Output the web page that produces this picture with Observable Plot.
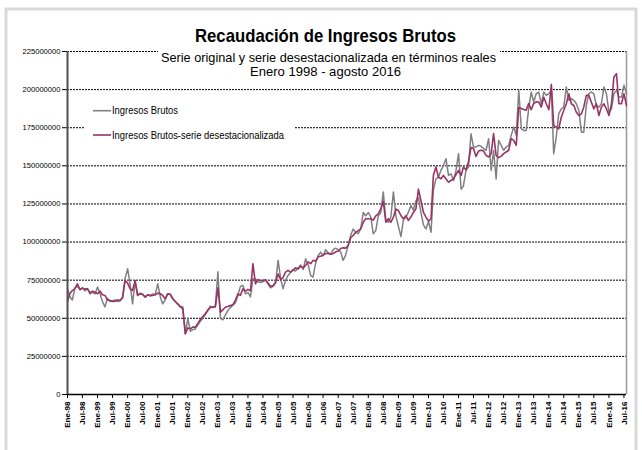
<!DOCTYPE html>
<html><head><meta charset="utf-8">
<script src="https://cdn.jsdelivr.net/npm/d3@7"></script>
<script src="https://cdn.jsdelivr.net/npm/@observablehq/plot@0.6"></script>
<style>
body{margin:0;background:#fff;}
svg{display:block}
</style>
</head><body><div id="chart"></div>
<script>
// ---- texts ----
const titleText = "Recaudación de Ingresos Brutos";
const subtitleLines = ["Serie original y serie desestacionalizada en términos reales", "Enero 1998 - agosto 2016"];
const seriesNames = ["Ingresos Brutos", "Ingresos Brutos-serie desestacionalizada"];
const monthAbbr = ["Ene","Feb","Mar","Abr","May","Jun","Jul","Ago","Sep","Oct","Nov","Dic"];
const yTicks = [0, 25000000, 50000000, 75000000, 100000000, 125000000, 150000000, 175000000, 200000000, 225000000];

// ---- monthly values, millions, Jan 1998 .. Aug 2016 ----
const original = [
69.0, 64.0, 62.0, 70.0, 71.0, 69.0, 70.0, 68.0, 69.5, 66.0, 67.0, 66.0,
70.5, 66.0, 61.0, 57.5, 63.0, 61.0, 61.5, 62.0, 61.0, 61.5, 64.0, 76.0,
82.5, 72.0, 59.5, 74.0, 65.0, 66.5, 66.0, 64.0, 65.5, 64.5, 66.0, 65.5,
72.6, 64.0, 59.5, 62.0, 66.0, 66.0, 63.0, 61.0, 59.0, 57.5, 57.5, 40.0,
50.0, 41.5, 42.5, 43.0, 45.5, 48.0, 50.0, 52.5, 55.0, 58.0, 57.0, 58.0,
80.5, 50.0, 49.0, 52.0, 55.0, 57.0, 58.5, 60.0, 65.0, 70.9, 71.5, 66.0,
67.0, 64.0, 76.0, 75.7, 74.0, 73.5, 74.0, 75.0, 72.5, 70.0, 71.0, 73.0,
88.0, 76.0, 69.3, 75.0, 78.0, 80.0, 82.0, 81.0, 83.0, 85.0, 82.0, 89.0,
85.0, 78.0, 77.0, 86.0, 91.0, 93.4, 91.0, 95.0, 93.0, 92.0, 95.0, 96.0,
95.0, 93.4, 88.0, 91.4, 97.7, 104.3, 108.6, 106.4, 105.5, 108.6, 119.4, 117.2,
119.4, 116.4, 105.4, 107.5, 117.2, 119.4, 132.9, 114.5, 113.0, 116.4, 132.9, 117.2,
110.2, 103.6, 114.2, 116.4, 119.4, 124.0, 121.0, 127.0, 129.0, 119.4, 111.3, 108.6,
113.5, 106.4, 133.9, 141.5, 142.6, 147.0, 150.0, 154.6, 143.7, 144.8, 140.4, 147.0,
158.0, 134.6, 136.8, 147.0, 149.2, 171.0, 162.4, 162.4, 163.4, 162.8, 161.3, 160.2,
167.8, 147.0, 160.0, 141.4, 166.7, 163.4, 160.2, 162.4, 163.4, 170.0, 175.4, 170.0,
199.5, 174.3, 173.2, 173.2, 187.4, 198.4, 191.9, 197.3, 198.4, 190.7, 198.4, 196.2,
197.3, 199.5, 158.0, 168.9, 184.1, 187.4, 188.5, 201.7, 193.0, 194.1, 193.0, 190.7,
186.3, 172.0, 172.0, 189.6, 197.3, 198.4, 197.3, 189.6, 188.5, 190.7, 201.7, 197.3,
185.2, 187.4, 197.3, 199.5, 195.1, 195.1, 202.8, 197.3
];
const desest = [
61.2, 66.5, 68.2, 69.5, 72.6, 68.7, 69.8, 69.1, 69.3, 66.7, 67.8, 67.1,
66.1, 67.8, 65.4, 65.0, 62.1, 61.7, 61.0, 61.2, 62.1, 61.7, 63.4, 74.8,
73.1, 69.3, 68.2, 74.8, 65.0, 66.1, 65.6, 63.9, 65.4, 65.0, 65.0, 65.4,
66.5, 66.1, 65.0, 62.8, 66.1, 65.6, 62.8, 61.0, 59.5, 57.7, 56.2, 39.8,
43.7, 43.1, 44.2, 44.2, 46.5, 49.0, 51.0, 53.0, 55.5, 57.0, 57.5, 57.5,
70.0, 54.0, 55.5, 57.2, 57.7, 58.3, 58.8, 61.7, 66.0, 65.0, 69.3, 67.8,
69.0, 68.0, 85.8, 72.6, 75.3, 74.8, 74.8, 75.3, 73.1, 70.9, 71.5, 73.7,
79.1, 75.3, 76.6, 80.3, 81.4, 80.3, 81.4, 83.1, 82.4, 84.1, 83.1, 84.7,
86.9, 85.8, 88.0, 87.5, 90.3, 90.7, 91.4, 92.5, 92.5, 92.0, 92.5, 93.6,
94.2, 95.8, 96.2, 96.0, 97.7, 102.8, 104.3, 106.4, 107.5, 108.6, 113.0, 115.3,
115.3, 115.3, 114.4, 117.2, 118.4, 121.7, 126.7, 113.0, 115.3, 113.0, 116.4, 121.7,
120.6, 117.3, 115.3, 117.3, 114.2, 116.4, 119.4, 121.7, 134.7, 127.1, 119.4, 116.4,
113.7, 115.3, 143.7, 149.2, 142.6, 141.5, 143.7, 141.5, 139.3, 140.4, 141.5, 144.3,
147.0, 143.7, 149.2, 147.4, 152.5, 162.0, 161.3, 156.2, 159.7, 160.2, 159.7, 156.9,
155.8, 158.0, 171.2, 156.9, 155.4, 156.2, 158.0, 159.1, 160.2, 167.8, 166.7, 163.4,
188.2, 187.6, 186.9, 186.5, 190.9, 186.9, 190.9, 192.0, 191.8, 188.5, 195.0, 190.7,
186.8, 203.4, 176.5, 175.4, 174.3, 181.9, 186.3, 190.7, 197.3, 190.7, 189.6, 185.2,
183.0, 184.1, 188.5, 196.2, 196.2, 191.8, 187.4, 190.7, 183.0, 188.5, 190.7, 187.4,
183.0, 190.7, 208.2, 210.4, 190.7, 190.7, 197.3, 189.6
];

const colors = {original: "#808080", desest: "#993366"};
const font = "'Liberation Sans', Arial, sans-serif";

const dates = original.map((_, i) => new Date(Date.UTC(1998, i, 1)));
const data = dates.map((d, i) => ({date: d, original: original[i] * 1e6, desest: desest[i] * 1e6}));
const xTicks = dates.filter(d => d.getUTCMonth() % 6 === 0);
const fmtX = d => monthAbbr[d.getUTCMonth()] + "-" + String(d.getUTCFullYear()).slice(2);

const W = 642, H = 450;
const chart = Plot.plot({
  width: W, height: H,
  marginLeft: 67, marginRight: 16, marginTop: 51, marginBottom: 56,
  style: {fontFamily: font, background: "white", color: "black"},
  x: {type: "utc", domain: [dates[0], dates[dates.length - 1]]},
  y: {domain: [0, 225000000]},
  marks: [
    Plot.gridY(yTicks.filter(d => d > 0), {stroke: "black", strokeOpacity: 1, strokeDasharray: "2,1", strokeWidth: 1}),
    Plot.ruleX([dates[dates.length - 1]], {stroke: "#9a9a9a", strokeWidth: 1.5}),
    Plot.axisY({ticks: yTicks, tickFormat: d => String(d), tickSize: 5, tickPadding: 2, fontSize: 7.6, label: null}),
    Plot.axisX({ticks: xTicks, tickFormat: fmtX, tickRotate: -90, tickSize: 4, tickPadding: 3, fontSize: 8, fontWeight: "bold", label: null}),
    Plot.lineY(data, {x: "date", y: "original", stroke: colors.original, strokeWidth: 1.5}),
    Plot.lineY(data, {x: "date", y: "desest", stroke: colors.desest, strokeWidth: 1.6}),
    Plot.ruleX([dates[0]], {stroke: "#505050", strokeWidth: 2}),
    Plot.ruleY([0], {stroke: "black", strokeWidth: 1.5})
  ]
});
document.getElementById("chart").appendChild(chart);

// ---- decorations: frame, title, subtitle, legend ----
const svg = d3.select(chart);
const deco = svg.append("g").attr("font-family", font).attr("text-anchor", "start").attr("fill", "black");
deco.append("path").attr("d", `M6,${H} V9 H${W - 6} V${H}`).attr("fill", "none").attr("stroke", "#d9d9d9").attr("stroke-width", 3);
deco.append("rect").attr("x", 158).attr("y", 45).attr("width", 342).attr("height", 36).attr("fill", "#ffffff").attr("stroke", "none");
deco.append("text").attr("x", 195).attr("y", 41.5).attr("font-size", 18.5).attr("font-weight", "bold")
  .attr("textLength", 261).attr("lengthAdjust", "spacingAndGlyphs").text(titleText);
const subX = [161, 250], subW = [335, 151], subY = [61.5, 76];
subtitleLines.forEach((t, i) => {
  deco.append("text").attr("x", subX[i]).attr("y", subY[i]).attr("font-size", 13)
    .attr("textLength", subW[i]).attr("lengthAdjust", "spacingAndGlyphs").text(t);
});
deco.append("rect").attr("x", 84).attr("y", 99).attr("width", 210).attr("height", 44).attr("fill", "#ffffff").attr("stroke", "none");
const legW = [66, 172], legY = [110.7, 135];
[colors.original, colors.desest].forEach((c, i) => {
  const y = legY[i];
  deco.append("line").attr("x1", 93).attr("x2", 111).attr("y1", y).attr("y2", y).attr("stroke", c).attr("stroke-width", 1.6);
  deco.append("text").attr("x", 112).attr("y", y).attr("dy", "0.35em").attr("font-size", 10.5)
    .attr("textLength", legW[i]).attr("lengthAdjust", "spacingAndGlyphs").text(seriesNames[i]);
});
</script>
</body></html>
